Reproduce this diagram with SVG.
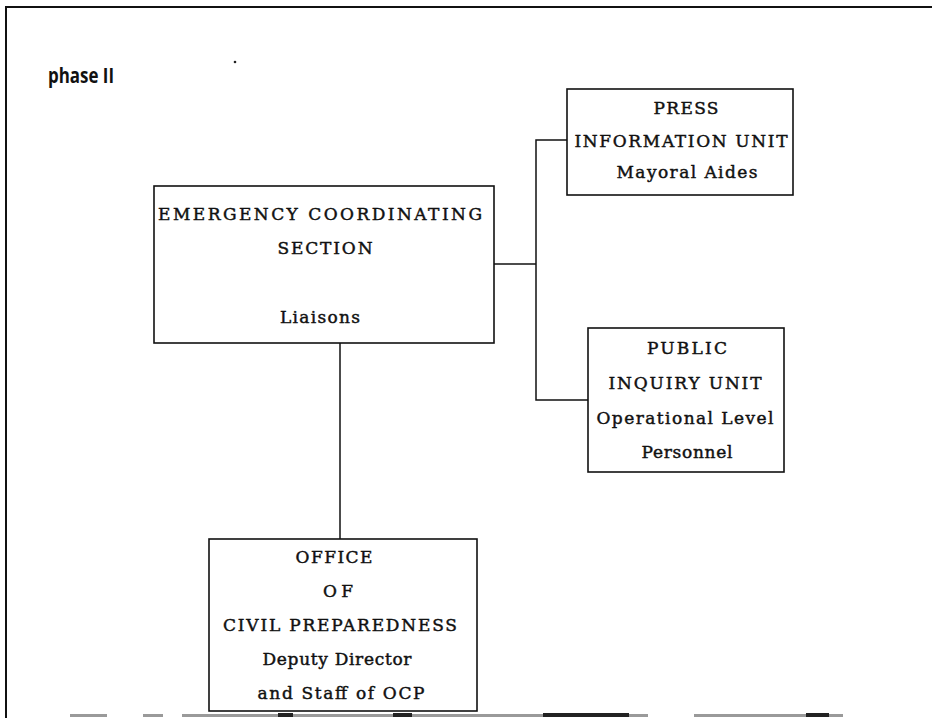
<svg xmlns="http://www.w3.org/2000/svg" width="932" height="718" viewBox="0 0 932 718">
  <style>
    .box { fill: #ffffff; stroke: #111111; stroke-width: 1.6; }
    .wire { fill: none; stroke: #111111; stroke-width: 1.5; }
    .lbl { font-family: "DejaVu Serif", "Liberation Serif", serif; font-size: 17px; fill: #111111; stroke: #111111; stroke-width: 0.45; text-anchor: middle; }
    .title { font-family: "Open Sans", "DejaVu Sans", sans-serif; font-weight: bold; font-size: 22px; fill: #111111; }
    .frame { fill: none; stroke: #111111; stroke-width: 2; }
    .rule { fill: #9a9a9a; }
    .rule-dk { fill: #222222; }
  </style>

  <rect x="0" y="0" width="932" height="718" fill="#ffffff"/>

  <!-- page frame -->
  <path class="frame" d="M6,718 V7 H932"/>
  <g id="bottom-rule">
    <rect class="rule" x="70" y="714" width="37" height="3"/>
    <rect class="rule" x="143" y="714" width="20" height="3"/>
    <rect class="rule" x="182" y="714" width="466" height="3"/>
    <rect class="rule" x="694" y="714" width="149" height="3"/>
    <rect class="rule-dk" x="278" y="713" width="15" height="4"/>
    <rect class="rule-dk" x="393" y="713" width="19" height="4"/>
    <rect class="rule-dk" x="543" y="713" width="86" height="4"/>
    <rect class="rule-dk" x="806" y="713" width="23" height="4"/>
  </g>

  <text class="title" x="48" y="83" textLength="66" lengthAdjust="spacingAndGlyphs">phase II</text>
  <circle cx="235" cy="62" r="1.3" fill="#222222"/>

  <!-- connectors -->
  <g id="connectors">
    <path class="wire" d="M494,264 H536"/>
    <path class="wire" d="M567,140 H536 V400 H588"/>
    <path class="wire" d="M340,343 V539"/>
  </g>

  <g id="ecs">
    <rect class="box" x="154" y="186" width="340" height="157"/>
    <text class="lbl" x="320" y="220" textLength="324" lengthAdjust="spacing">EMERGENCY COORDINATING</text>
    <text class="lbl" x="325" y="254" textLength="95" lengthAdjust="spacing">SECTION</text>
    <text class="lbl" x="320" y="323" textLength="80" lengthAdjust="spacing">Liaisons</text>
  </g>

  <g id="press">
    <rect class="box" x="567" y="89" width="226" height="106"/>
    <text class="lbl" x="686" y="114" textLength="65" lengthAdjust="spacing">PRESS</text>
    <text class="lbl" x="681" y="147" textLength="213" lengthAdjust="spacing">INFORMATION UNIT</text>
    <text class="lbl" x="687" y="178" textLength="141" lengthAdjust="spacing">Mayoral Aides</text>
  </g>

  <g id="public">
    <rect class="box" x="588" y="328" width="196" height="144"/>
    <text class="lbl" x="687" y="354" textLength="80" lengthAdjust="spacing">PUBLIC</text>
    <text class="lbl" x="685" y="389" textLength="153" lengthAdjust="spacing">INQUIRY UNIT</text>
    <text class="lbl" x="685" y="424" textLength="177" lengthAdjust="spacing">Operational Level</text>
    <text class="lbl" x="687" y="458" textLength="91" lengthAdjust="spacing">Personnel</text>
  </g>

  <g id="ocp">
    <rect class="box" x="209" y="539" width="268" height="172"/>
    <text class="lbl" x="334" y="563" textLength="77" lengthAdjust="spacing">OFFICE</text>
    <text class="lbl" x="338" y="597" textLength="30" lengthAdjust="spacing">OF</text>
    <text class="lbl" x="340" y="631" textLength="234" lengthAdjust="spacing">CIVIL PREPAREDNESS</text>
    <text class="lbl" x="337" y="665" textLength="149" lengthAdjust="spacing">Deputy Director</text>
    <text class="lbl" x="341" y="699" textLength="167" lengthAdjust="spacing">and Staff of OCP</text>
  </g>
</svg>
